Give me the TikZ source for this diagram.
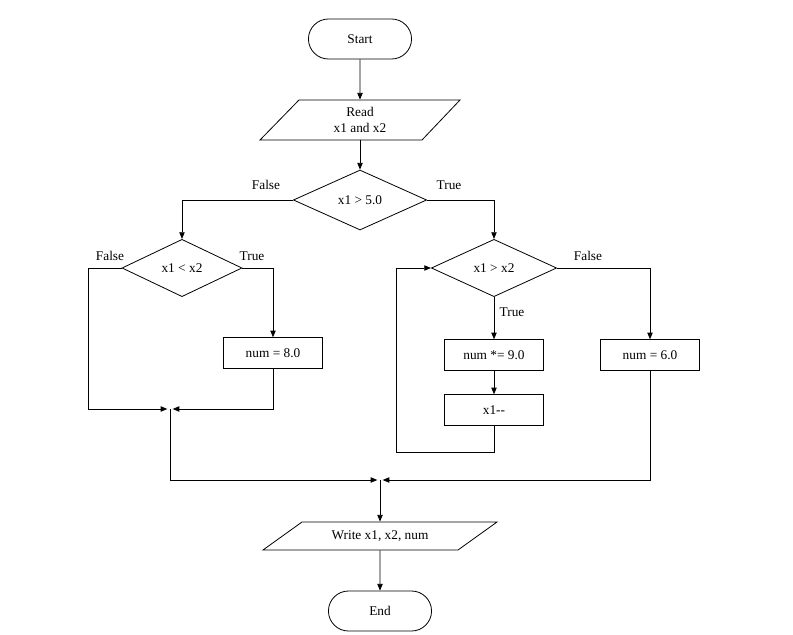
\documentclass[tikz,border=0pt]{standalone}
\usepackage{fontspec}
\setmainfont{Liberation Serif}
\usetikzlibrary{shapes.geometric,shapes.misc,arrows.meta}
\begin{document}
\begin{tikzpicture}[x=0.75pt,y=-0.75pt,
  every node/.style={font=\fontsize{10}{11.5}\selectfont},
  term/.style={draw,rounded rectangle,minimum width=84pt,minimum height=30pt},
  io/.style={rectangle,inner sep=0pt,align=center},
  dec/.style={draw,diamond,aspect=2.2,inner sep=0pt},
  box/.style={draw,rectangle,minimum width=74pt,minimum height=23pt},
  lab/.style={font=\fontsize{10}{11}\selectfont},
  ar/.style={-{Triangle[length=5pt,width=4pt]}},
  line width=0.6pt]
\useasboundingbox (0,0) rectangle (793,635);
\node[term] (start) at (360,39) {Start};
\draw (299,100) -- (460,100) -- (422,140) -- (260,140) -- cycle;
\node[io,minimum width=100pt,minimum height=30pt] (read) at (360,120) {Read\\x1 and x2};
\node[dec,minimum width=100pt,minimum height=45pt] (d1) at (360,200) {x1 {\textgreater} 5.0};
\node[dec,minimum width=90pt,minimum height=43pt] (d2) at (182,268) {x1 {\textless} x2};
\node[dec,minimum width=94pt,minimum height=43pt] (d3) at (494,268) {x1 {\textgreater} x2};
\node[box] (b8) at (273,353) {num = 8.0};
\node[box] (b9) at (494,355) {num *= 9.0};
\node[box] (bx) at (494,410) {x1{-}{-}};
\node[box] (b6) at (650,355) {num = 6.0};
\draw (302,522) -- (497,522) -- (458,550) -- (263,550) -- cycle;
\node[io,minimum width=120pt,minimum height=21pt] (wr) at (380,536) {Write x1, x2, num};
\node[term] (end) at (380,611) {End};
\coordinate (j1) at (170,409);
\coordinate (j2) at (380,480);

\draw[ar] (start) -- (read);
\draw[ar] (read) -- (d1);
\draw[ar] (d1.west) -| (d2.north);
\draw[ar] (d1.east) -| (d3.north);
\node[lab] at (266,185) {False};
\node[lab] at (449,185) {True};
\draw[ar] (d2.west) -- (88,268) |- ([xshift=-2pt]j1);
\draw[ar] (d2.east) -| (b8.north);
\draw[ar] (b8.south) |- ([xshift=2pt]j1);
\node[lab] at (110,256) {False};
\node[lab] at (252,256) {True};
\draw[ar] (j1) -- (170,480) -- ([xshift=-2pt]j2);
\draw[ar] (d3.south) -- (b9.north);
\node[lab] at (512,312) {True};
\draw[ar] (b9) -- (bx);
\draw[ar] (bx.south) -- (494,452) -| (396,268) -- (d3.west);
\draw[ar] (d3.east) -| (b6.north);
\node[lab] at (588,256) {False};
\draw[ar] (b6.south) |- ([xshift=2pt]j2);
\draw[ar] (j2) -- (wr);
\draw[ar] (wr) -- (end);
\end{tikzpicture}
\end{document}
